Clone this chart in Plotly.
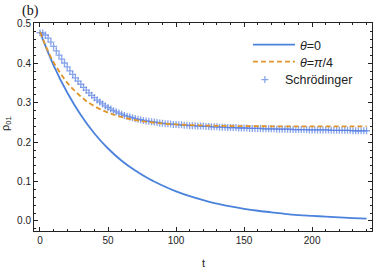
import plotly.graph_objects as go

# ---- data ----
t_theta0 = [0, 10, 20, 30, 40, 50, 60, 70, 80, 90, 100, 110, 120, 130,
            140, 150, 160, 170, 180, 190, 200, 210, 220, 230, 240]
rho_theta0 = [0.480, 0.395, 0.326, 0.269, 0.222, 0.184, 0.153, 0.128, 0.107, 0.090, 0.075,
              0.063, 0.053, 0.044, 0.037, 0.031, 0.026, 0.022, 0.018, 0.015, 0.013, 0.011,
              0.009, 0.0075, 0.006]

t_theta_pi4 = [0, 5, 10, 15, 20, 25, 30, 35, 40, 45, 50, 55, 60, 70, 80, 90, 100, 110, 120, 130,
               140, 150, 160, 170, 180, 190, 200, 210, 220, 230, 240]
rho_theta_pi4 = [0.480, 0.438, 0.403, 0.375, 0.351, 0.332, 0.316, 0.302, 0.2915, 0.2825, 0.275,
                 0.269, 0.264, 0.256, 0.251, 0.2475, 0.245, 0.2435, 0.2424, 0.2416, 0.2411, 0.2407,
                 0.2405, 0.2403, 0.2402, 0.2402, 0.2401, 0.2401, 0.2400, 0.2400, 0.2400]

t_schr = list(range(0, 241, 2))
rho_schr = [
    0.478, 0.477, 0.472, 0.464, 0.454, 0.443, 0.432, 0.421, 0.411, 0.401, 0.391,
    0.381, 0.372, 0.363, 0.355, 0.347, 0.339, 0.332, 0.325, 0.319, 0.313,
    0.307, 0.302, 0.297, 0.292, 0.288, 0.284, 0.280, 0.277, 0.274, 0.271,
    0.268, 0.266, 0.264, 0.262, 0.260, 0.258, 0.257, 0.255, 0.254, 0.253,
    0.252, 0.251, 0.250, 0.249, 0.248, 0.247, 0.247, 0.246, 0.245, 0.245,
    0.244, 0.244, 0.243, 0.243, 0.242, 0.242, 0.242, 0.241, 0.241, 0.241,
    0.240, 0.240, 0.239, 0.239, 0.239, 0.238, 0.238, 0.238, 0.237, 0.237,
    0.237, 0.237, 0.236, 0.236, 0.236, 0.236, 0.235, 0.235, 0.235, 0.235,
    0.235, 0.234, 0.234, 0.234, 0.234, 0.234, 0.233, 0.233, 0.233, 0.233,
    0.233, 0.233, 0.232, 0.232, 0.232, 0.232, 0.232, 0.232, 0.231, 0.231,
    0.231, 0.231, 0.231, 0.231, 0.231, 0.231, 0.230, 0.230, 0.230, 0.230,
    0.230, 0.230, 0.230, 0.230, 0.229, 0.229, 0.229, 0.229, 0.229, 0.229,
]

x_ticks = [0, 50, 100, 150, 200]
y_ticks = [0.0, 0.1, 0.2, 0.3, 0.4, 0.5]
y_tick_labels = ["0.0", "0.1", "0.2", "0.3", "0.4", "0.5"]

BLUE = "#4A82DC"
ORANGE = "#E0962A"
SCHR = "rgba(85,125,225,0.7)"
SANS = "Liberation Sans, Arial, sans-serif"
INK = "#222"

fig = go.Figure()
fig.add_trace(go.Scatter(
    x=t_schr, y=rho_schr, mode="markers", name="Schrödinger", legend="legend3",
    showlegend=True,
    marker=dict(symbol="cross-thin", size=5, color=SCHR, line=dict(width=1.3, color=SCHR)),
))
fig.add_trace(go.Scatter(
    x=t_theta0, y=rho_theta0, mode="lines", name="<i>θ</i>=0", line_shape="spline",
    legend="legend", showlegend=True, line=dict(color=BLUE, width=1.8),
))
fig.add_trace(go.Scatter(
    x=t_theta_pi4, y=rho_theta_pi4, mode="lines", name="<i>θ</i>=<i>π</i>/4", line_shape="spline",
    legend="legend2", showlegend=True, line=dict(color=ORANGE, width=1.8, dash="5px,3px"),
))

axis_common = dict(
    showline=True, linecolor=INK, linewidth=1, mirror="ticks",
    ticks="inside", ticklen=4, tickwidth=1, tickcolor=INK,
    showgrid=False, zeroline=False, automargin=False,
    tickfont=dict(family=SANS, size=10, color=INK),
)

legend_common = dict(xanchor="left", yanchor="middle", bgcolor="rgba(0,0,0,0)",
                     font=dict(family=SANS, size=12.5, color=INK), visible=True)

fig.update_layout(
    width=374, height=269,
    showlegend=True,
    margin=dict(l=34, r=2, t=23, b=38),
    paper_bgcolor="white", plot_bgcolor="white",
    font=dict(family=SANS, color=INK),
    xaxis=dict(range=[-4.4, 244], tickvals=x_ticks,
               minor=dict(dtick=10, tick0=0, ticks="inside", ticklen=2, tickcolor=INK),
               **axis_common),
    yaxis=dict(range=[-0.0254, 0.5025], tickvals=y_ticks, ticktext=y_tick_labels,
               minor=dict(dtick=0.02, tick0=0, ticks="inside", ticklen=2, tickcolor=INK),
               **axis_common),
    legend=dict(x=0.633, y=0.894, itemwidth=42, **legend_common),
    legend2=dict(x=0.633, y=0.8125, itemwidth=42, **legend_common),
    legend3=dict(x=0.624, y=0.726, itemwidth=30, **legend_common),
    annotations=[
        dict(text="(b)", xref="paper", yref="paper", x=-0.009, y=1.058,
             xanchor="center", yanchor="middle", showarrow=False,
             font=dict(family="Liberation Serif, Times New Roman, serif", size=14, color="#111")),
        dict(text="t", xref="paper", yref="paper", x=0.5, y=-0.154,
             xanchor="center", yanchor="middle", showarrow=False,
             font=dict(family=SANS, size=11, color=INK)),
        dict(text="ρ<sub>01</sub>", xref="paper", yref="paper", x=-0.0828, y=0.514,
             xanchor="center", yanchor="middle", showarrow=False, textangle=-90,
             font=dict(family=SANS, size=11, color=INK)),
    ],
)

fig.write_html(
    "out.html",
    config={"displayModeBar": False},
    post_script="document.body.style.margin='0';document.body.style.overflow='hidden';",
)
